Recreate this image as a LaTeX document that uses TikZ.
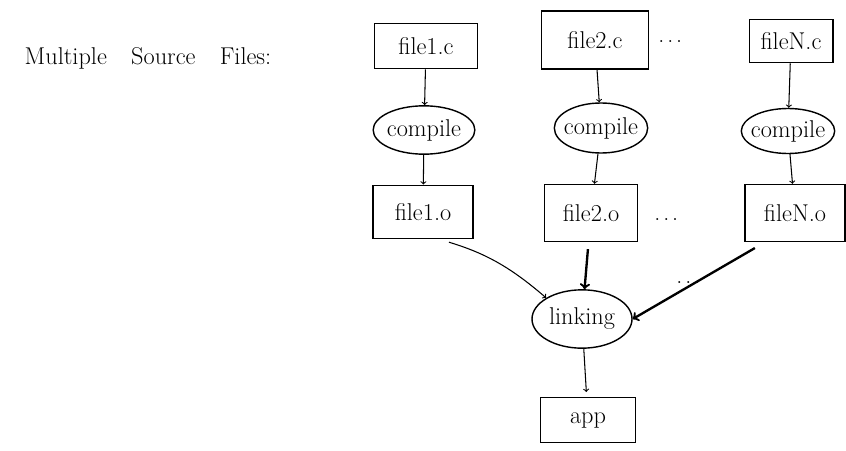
\documentclass[tikz,border=0pt]{standalone}
\usepackage{amsmath}
\usepackage{tikz}
\usetikzlibrary{shapes.geometric}

\begin{document}
\begin{tikzpicture}[
  x=0.03cm, y=-0.03cm,
  file/.style={draw, line width=1.4pt, font=\huge, inner sep=2pt},
  task/.style={draw, ellipse, line width=1.2pt, font=\huge, inner sep=-4pt},
  flow/.style={->, line width=0.9pt},
  bold flow/.style={->, line width=2pt},
  ]
  \useasboundingbox (0,0) rectangle (846,450);

  \node (intro) at (148,58) [font=\huge] {Multiple\quad Source\quad Files:};

  \node (c1) at (426,46) [file, minimum width=3.1cm, minimum height=1.35cm] {file1.c};
  \node (c2) at (595,40) [file, minimum width=3.2cm, minimum height=1.75cm] {file2.c};
  \node (cN) at (791,41) [file, minimum width=2.5cm, minimum height=1.3cm] {fileN.c};
  \node (d1) at (672,42) [font=\LARGE] {$\dots$};

  \node (p1) at (424,130) [task, minimum width=3.05cm, minimum height=1.45cm] {compile};
  \node (p2) at (601,128) [task, minimum width=2.8cm, minimum height=1.5cm] {compile};
  \node (pN) at (788,131) [task, minimum width=2.8cm, minimum height=1.35cm] {compile};

  \node (o1) at (423,212) [file, minimum width=3.0cm, minimum height=1.6cm] {file1.o};
  \node (o2) at (591,213) [file, minimum width=2.8cm, minimum height=1.7cm] {file2.o};
  \node (oN) at (795,213) [file, minimum width=3.0cm, minimum height=1.7cm] {fileN.o};
  \node (d2) at (668,220) [font=\LARGE] {$\dots$};

  \node (link) at (582,319) [task, minimum width=3.0cm, minimum height=1.75cm] {linking};
  \node (d3) at (690,283) [font=\LARGE] {$\dots$};

  \node (app) at (588,420) [file, minimum width=2.85cm, minimum height=1.35cm] {app};

  \draw[flow] (c1) -- (p1);
  \draw[flow] (c2) -- (p2);
  \draw[flow] (cN) -- (pN);
  \draw[flow] (p1) -- (o1);
  \draw[flow] (p2) -- (o2);
  \draw[flow] (pN) -- (oN);

  \draw[flow, shorten <=8pt]
    ([shift={(17,0)}]o1.south) to[bend left=12] (link.north west);
  \draw[bold flow, shorten <=6pt] (o2) -- (link);
  \draw[bold flow, shorten <=10pt]
    ([shift={(-30,0)}]oN.south) -- (link.east);
  \draw[flow, shorten >=4pt] (link) -- (app);
\end{tikzpicture}
\end{document}
